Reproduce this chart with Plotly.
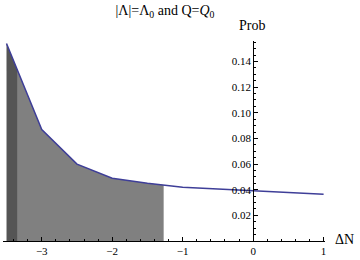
import numpy as np
import plotly.graph_objects as go

# Data
dN = [-3.5, -3.0, -2.5, -2.0, -1.5, -1.0, -0.5, 0.0, 0.5, 1.0]
prob = [0.154, 0.087, 0.060, 0.049, 0.045, 0.042, 0.0405, 0.039, 0.0378, 0.0365]
dark_range = [-3.5, -3.34]
light_range = [-3.34, -1.27]
x_ticks = [-3, -2, -1, 0, 1]
x_ticklabels = ["\u22123", "\u22122", "\u22121", "0", "1"]
y_ticks = [0.02, 0.04, 0.06, 0.08, 0.10, 0.12, 0.14]
y_ticklabels = ["0.02", "0.04", "0.06", "0.08", "0.10", "0.12", "0.14"]

xarr = np.array(dN)
yarr = np.array(prob)


def region(a, b):
    inside = [(x, y) for x, y in zip(dN, prob) if a < x < b]
    xs = [a] + [p[0] for p in inside] + [b]
    ys = [float(np.interp(a, xarr, yarr))] + [p[1] for p in inside] + [float(np.interp(b, xarr, yarr))]
    return xs, ys


fig = go.Figure()
xs, ys = region(*dark_range)
fig.add_trace(go.Scatter(x=xs, y=ys, fill="tozeroy", mode="none",
                         fillcolor="#555555", hoverinfo="skip"))
xs, ys = region(*light_range)
fig.add_trace(go.Scatter(x=xs, y=ys, fill="tozeroy", mode="none",
                         fillcolor="#808080", hoverinfo="skip"))
fig.add_trace(go.Scatter(x=dN, y=prob, mode="lines",
                         line=dict(color="#3e3e98", width=1.5)))

W_TOT, H_TOT = 360, 260
L, R, T, B = 3, 35, 41, 16
PW, PH = W_TOT - L - R, H_TOT - T - B


def px(xp):
    return (xp - L) / PW


def py(yp):
    return (H_TOT - B - yp) / PH


xmin, xmax = -3.55, 1.02
font = "Liberation Serif, Times New Roman, serif"

fig.update_layout(
    width=W_TOT, height=H_TOT,
    margin=dict(l=L, r=R, t=T, b=B),
    paper_bgcolor="white", plot_bgcolor="white",
    showlegend=False,
    font=dict(family=font, size=11, color="black"),
    title=dict(text="|\u039b|=\u039b<sub>0</sub> and Q=<i>Q</i><sub>0</sub>",
               x=165 / 360, xref="container", xanchor="center",
               y=1 - 10 / 260, yref="container", yanchor="middle",
               font=dict(family=font, size=14, color="black")),
    xaxis=dict(range=[xmin, xmax], showgrid=False, zeroline=False,
               showline=True, linecolor="black", linewidth=1,
               tickmode="array", tickvals=x_ticks, ticktext=x_ticklabels,
               ticks="inside", ticklen=4, tickcolor="black",
               minor=dict(dtick=0.2, tick0=0, ticks="inside", ticklen=2, tickcolor="black"),
               tickfont=dict(family=font, size=11)),
    yaxis=dict(range=[0, 0.156], showgrid=False, zeroline=False,
               anchor="free", position=(0 - xmin) / (xmax - xmin),
               showline=True, linecolor="black", linewidth=1,
               tickmode="array", tickvals=y_ticks, ticktext=y_ticklabels,
               ticks="inside", ticklen=4, tickcolor="black",
               minor=dict(dtick=0.005, tick0=0, ticks="inside", ticklen=2, tickcolor="black"),
               tickfont=dict(family=font, size=11)),
    annotations=[
        dict(text="Prob", x=px(252), y=py(25), xref="paper", yref="paper",
             showarrow=False, xanchor="center", yanchor="middle",
             font=dict(family=font, size=14, color="black")),
        dict(text="\u0394N", x=px(344), y=py(242), xref="paper", yref="paper",
             showarrow=False, xanchor="center", yanchor="middle",
             font=dict(family=font, size=14, color="black")),
    ],
)

fig.write_html("out.html", config={"displayModeBar": False},
               post_script="document.body.style.margin='0';")
